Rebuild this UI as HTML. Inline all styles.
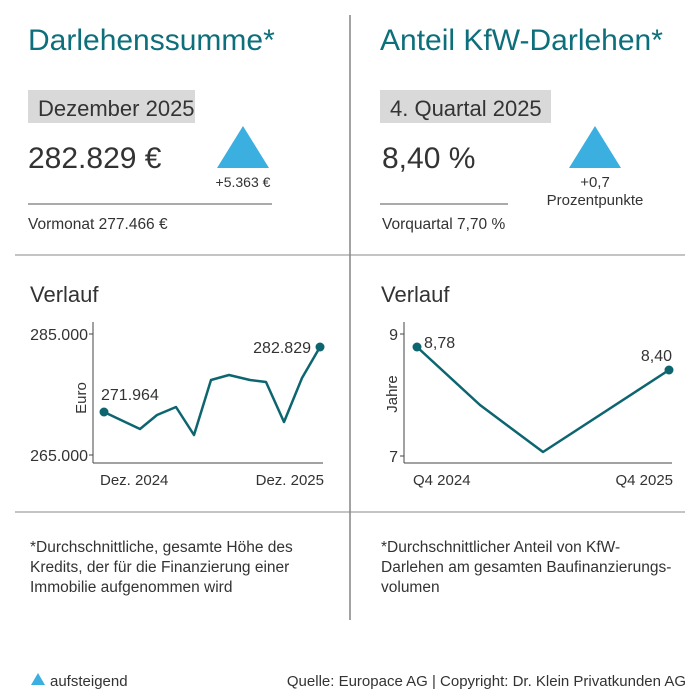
<!DOCTYPE html>
<html><head><meta charset="utf-8"><style>
body{margin:0;width:700px;height:700px;background:#fff;font-family:"Liberation Sans",sans-serif;color:#333;overflow:hidden}
</style></head><body>
<svg width="700" height="700" style="position:absolute;left:0;top:0" font-family="Liberation Sans, sans-serif" fill="#333">
<line x1="350" y1="15" x2="350" y2="620" stroke="#666" stroke-width="1.2"/>
<line x1="15" y1="255" x2="685" y2="255" stroke="#888" stroke-width="1"/>
<line x1="15" y1="512" x2="685" y2="512" stroke="#888" stroke-width="1"/>
<text x="28" y="50" font-size="30" fill="#0e6f7c">Darlehenssumme*</text>
<text x="380" y="50" font-size="30" fill="#0e6f7c">Anteil KfW-Darlehen*</text>
<rect x="28" y="90" width="167" height="33" fill="#d9d9d9"/>
<text x="38" y="116" font-size="22">Dezember 2025</text>
<rect x="380" y="90" width="171" height="33" fill="#d9d9d9"/>
<text x="390" y="116" font-size="22">4. Quartal 2025</text>
<text x="28" y="168" font-size="30">282.829 €</text>
<text x="382" y="168" font-size="30">8,40 %</text>
<polygon points="243,126 217,168 269,168" fill="#3bb0e0"/>
<text x="243" y="187" font-size="14" text-anchor="middle">+5.363 €</text>
<polygon points="595,126 569,168 621,168" fill="#3bb0e0"/>
<text x="595" y="187" font-size="15" text-anchor="middle">+0,7</text>
<text x="595" y="205" font-size="15" text-anchor="middle">Prozentpunkte</text>
<line x1="28" y1="204" x2="272" y2="204" stroke="#555"/>
<line x1="380" y1="204" x2="508" y2="204" stroke="#555"/>
<text x="28" y="229" font-size="15.5">Vormonat 277.466 €</text>
<text x="382" y="229" font-size="15.5">Vorquartal 7,70 %</text>
<text x="30" y="302" font-size="22">Verlauf</text>
<text x="381" y="302" font-size="22">Verlauf</text>
<g stroke="#444" stroke-width="1" fill="none">
<line x1="93" y1="322" x2="93" y2="463"/><line x1="93" y1="463" x2="323" y2="463"/>
<line x1="89" y1="334" x2="93" y2="334"/><line x1="89" y1="455" x2="93" y2="455"/>
<line x1="404" y1="322" x2="404" y2="463"/><line x1="404" y1="463" x2="672" y2="463"/>
<line x1="400" y1="334" x2="404" y2="334"/><line x1="400" y1="456" x2="404" y2="456"/>
</g>
<text x="88" y="340" font-size="16" text-anchor="end">285.000</text>
<text x="88" y="461" font-size="16" text-anchor="end">265.000</text>
<text x="86" y="398" font-size="15" text-anchor="middle" transform="rotate(-90 86 398)">Euro</text>
<polyline points="104,412 140,429 157,415 176,407 194,435 211,380 229,375 250,380 266,382 284,422 302,378 320,347" fill="none" stroke="#0d6570" stroke-width="2.5" stroke-linejoin="round"/>
<circle cx="104" cy="412" r="4.5" fill="#0d6570"/><circle cx="320" cy="347" r="4.5" fill="#0d6570"/>
<text x="101" y="400" font-size="16">271.964</text>
<text x="311" y="353" font-size="16" text-anchor="end">282.829</text>
<text x="100" y="485" font-size="15">Dez. 2024</text>
<text x="324" y="485" font-size="15" text-anchor="end">Dez. 2025</text>
<text x="398" y="340" font-size="16" text-anchor="end">9</text>
<text x="398" y="462" font-size="16" text-anchor="end">7</text>
<text x="397" y="394" font-size="15" text-anchor="middle" transform="rotate(-90 397 394)">Jahre</text>
<polyline points="417,347 480,405 543,452 669,370" fill="none" stroke="#0d6570" stroke-width="2.5" stroke-linejoin="round"/>
<circle cx="417" cy="347" r="4.5" fill="#0d6570"/><circle cx="669" cy="370" r="4.5" fill="#0d6570"/>
<text x="424" y="348" font-size="16">8,78</text>
<text x="672" y="361" font-size="16" text-anchor="end">8,40</text>
<text x="413" y="485" font-size="15">Q4 2024</text>
<text x="673" y="485" font-size="15" text-anchor="end">Q4 2025</text>
<text x="30" y="552" font-size="15.5">*Durchschnittliche, gesamte Höhe des</text>
<text x="30" y="572" font-size="15.5">Kredits, der für die Finanzierung einer</text>
<text x="30" y="592" font-size="15.5">Immobilie aufgenommen wird</text>
<text x="381" y="552" font-size="15.5">*Durchschnittlicher Anteil von KfW-</text>
<text x="381" y="572" font-size="15.5">Darlehen am gesamten Baufinanzierungs-</text>
<text x="381" y="592" font-size="15.5">volumen</text>
<polygon points="38,673 31,685 45,685" fill="#3bb0e0"/>
<text x="50" y="686" font-size="15">aufsteigend</text>
<text x="686" y="686" font-size="15" text-anchor="end">Quelle: Europace AG | Copyright: Dr. Klein Privatkunden AG</text>
</svg>
</body></html>
